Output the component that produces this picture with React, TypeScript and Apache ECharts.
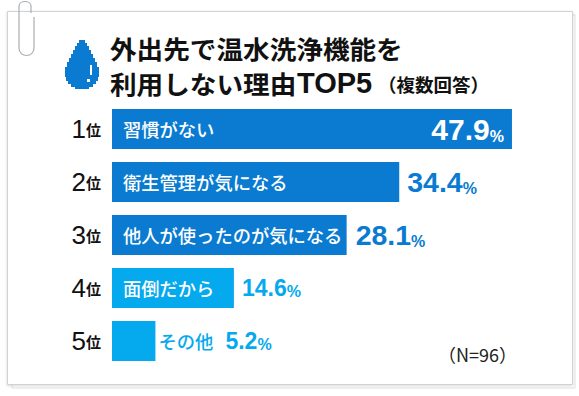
import React, { useEffect, useRef } from "react";
import * as echarts from "echarts";

const ranks = ["1", "2", "3", "4", "5"];
const categories = ["習慣がない", "衛生管理が気になる", "他人が使ったのが気になる", "面倒だから", "その他"];
const values = [47.9, 34.4, 28.1, 14.6, 5.2];
const titleLine1 = "外出先で温水洗浄機能を";
const titleLine2 = "利用しない理由";
const titleBrand = "TOP5";
const titleNote = "（複数回答）";
const sampleNote = "（N=96）";

const DARK = "#0a7bd0";
const LIGHT = "#05a9ee";
const barColors = [DARK, DARK, DARK, LIGHT, LIGHT];
const valueColors = ["#ffffff", DARK, DARK, LIGHT, LIGHT];
const valueSizes = ["v30", "v28", "v28", "v23", "v23"];
const valueDistances = [8, 8, 9, 8, 70];
const JP = '"Noto Sans CJK JP", sans-serif';
const NUM = '"Liberation Sans", Arial, sans-serif';

const clipPath = "M34 17 L34 48 C34 58 19 58 19 48 L19 6 C19 0 31 0 31 6 L31 13";
echarts.graphic.registerShape("clipShape", echarts.graphic.extendPath(clipPath, {}));

const dropRows: [number, number][] = [
  [40, 3], [43, 5], [46, 7], [50, 9], [54, 11], [58, 13], [62, 15], [67, 17],
  [77, 16], [81, 14], [84, 11], [87, 7],
];
const dropPoints = (() => {
  const cx = 82, bottom = 89;
  const right: number[][] = [];
  dropRows.forEach(([y, h], i) => {
    const next = i + 1 < dropRows.length ? dropRows[i + 1][0] : bottom;
    right.push([cx + h, y], [cx + h, next]);
  });
  const left = right.map(([x, y]) => [2 * cx - x, y]).reverse();
  return [...right, ...left];
})();

function buildOption() {
  const rich: any = {
    v30: { fontFamily: NUM, fontWeight: 700, fontSize: 30 },
    v28: { fontFamily: NUM, fontWeight: 700, fontSize: 28.5 },
    v23: { fontFamily: NUM, fontWeight: 700, fontSize: 23 },
    p: { fontFamily: NUM, fontWeight: 700, fontSize: 16, verticalAlign: "bottom" },
  };
  return {
    animation: false,
    backgroundColor: "#ffffff",
    grid: { left: 112, top: 102.5, width: 417.5, height: 265 },
    xAxis: { type: "value", min: 0, max: 50, show: false },
    yAxis: {
      type: "category",
      inverse: true,
      data: ranks,
      axisLine: { show: false },
      axisTick: { show: false },
      axisLabel: {
        margin: 11,
        formatter: (v: string) => `{n|${v}}{u|位}`,
        rich: {
          n: { fontFamily: NUM, fontSize: 26, color: "#111111", fontWeight: 400 },
          u: { fontFamily: JP, fontSize: 15, color: "#111111", fontWeight: 700 },
        },
      },
    },
    series: [
      {
        type: "bar",
        barWidth: 40,
        barGap: "-100%",
        silent: true,
        data: values.map((v, i) => ({
          value: v,
          name: categories[i],
          itemStyle: { color: barColors[i] },
          label:
            i === 4
              ? { position: "right", distance: 3, color: LIGHT, fontWeight: 500 }
              : { position: "insideLeft", distance: 11, color: "#ffffff" },
        })),
        label: {
          show: true,
          formatter: (p: any) => p.name,
          fontFamily: JP,
          fontSize: 18.3,
          fontWeight: 500,
        },
      },
      {
        type: "bar",
        barWidth: 40,
        barGap: "-100%",
        silent: true,
        itemStyle: { color: "rgba(0,0,0,0)" },
        data: values.map((v, i) => ({
          value: v,
          label: {
            show: true,
            position: i === 0 ? "insideRight" : "right",
            distance: valueDistances[i],
            color: valueColors[i],
            formatter: `{${valueSizes[i]}|${v.toFixed(1)}}{p|%}`,
            rich: Object.fromEntries(
              Object.entries(rich).map(([k, s]: any) => [k, { ...s, color: valueColors[i] }]),
            ),
          },
        })),
      },
    ],
    graphic: [
      { type: "rect", z: -3, silent: true, shape: { x: 12, y: 15, width: 563, height: 373 },
        style: { fill: "#ffffff", stroke: "#e2e2e2", lineWidth: 1 } },
      { type: "rect", z: -2, silent: true, shape: { x: 7.5, y: 11.5, width: 565, height: 373 },
        style: { fill: "#ffffff", stroke: "#d2d2d2", lineWidth: 1, shadowBlur: 3, shadowColor: "rgba(0,0,0,0.15)", shadowOffsetY: 1 } },
      { type: "clipShape", z: 10, silent: true, x: 0, y: 0,
        style: { fill: "none", stroke: "#a9b0b3", lineWidth: 1.2 } },
      { type: "polygon", z: 5, silent: true, shape: { points: dropPoints }, style: { fill: DARK } },
      { type: "rect", z: 6, silent: true, shape: { x: 90, y: 65, width: 2, height: 10 }, style: { fill: "#ffffff" } },
      { type: "rect", z: 6, silent: true, shape: { x: 87, y: 79, width: 3, height: 3 }, style: { fill: "#ffffff" } },
      { type: "text", z: 5, silent: true, x: 110, y: 48, scaleX: 1.065,
        style: { text: titleLine1, fontFamily: JP, fontSize: 25, fontWeight: 700, fill: "#111111", verticalAlign: "middle" } },
      { type: "text", z: 5, silent: true, x: 110, y: 83, scaleX: 1.065,
        style: { text: titleLine2, fontFamily: JP, fontSize: 25, fontWeight: 700, fill: "#111111", verticalAlign: "middle" } },
      { type: "text", z: 5, silent: true, x: 297, y: 83,
        style: { text: titleBrand, fontFamily: NUM, fontSize: 29, fontWeight: 700, fill: "#111111", verticalAlign: "middle" } },
      { type: "text", z: 5, silent: true, x: 378, y: 84,
        style: { text: titleNote, fontFamily: JP, fontSize: 18.5, fontWeight: 700, fill: "#111111", verticalAlign: "middle" } },
      { type: "text", z: 5, silent: true, x: 438, y: 354,
        style: { text: sampleNote, fontFamily: JP, fontSize: 18, fontWeight: 400, fill: "#222222", verticalAlign: "middle" } },
    ],
  };
}

export default function App() {
  const ref = useRef<HTMLDivElement>(null);
  useEffect(() => {
    document.body.style.margin = "0";
    const chart = echarts.init(ref.current!, undefined, { renderer: "svg" });
    chart.setOption(buildOption() as any);
    return () => chart.dispose();
  }, []);
  return <div ref={ref} style={{ width: 579, height: 396 }} />;
}
